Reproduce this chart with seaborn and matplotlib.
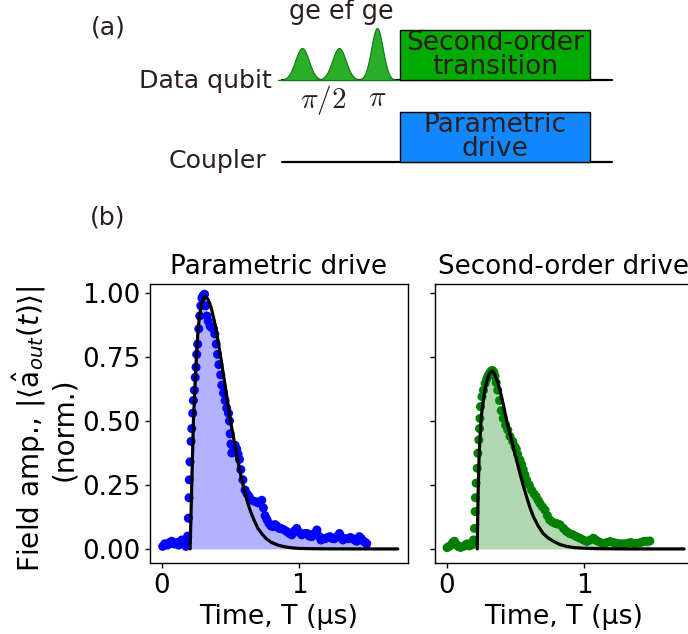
import numpy as np
import pandas as pd
import matplotlib
matplotlib.use("Agg")
import matplotlib.pyplot as plt
from matplotlib.patches import Rectangle
import seaborn as sns

# ---- measured emission envelopes (normalised field amplitude vs time in us) ----
param_time = [0.005, 0.02, 0.04, 0.055, 0.07, 0.085, 0.095, 0.11, 0.12, 0.135, 0.144, 0.155,
              0.165, 0.175, 0.187, 0.192, 0.197, 0.199, 0.204, 0.212, 0.217, 0.224, 0.229,
              0.236, 0.242, 0.248, 0.253, 0.260, 0.268, 0.275, 0.283, 0.291, 0.300, 0.310,
              0.320, 0.328, 0.337, 0.350, 0.362, 0.375, 0.385, 0.395, 0.405, 0.415, 0.428,
              0.436, 0.448, 0.460, 0.472, 0.485, 0.492, 0.497, 0.503, 0.509, 0.520, 0.533,
              0.545, 0.555, 0.565, 0.575, 0.590, 0.606, 0.620, 0.635, 0.655, 0.680, 0.700,
              0.715, 0.728, 0.740, 0.752, 0.765, 0.780, 0.795, 0.810, 0.825, 0.837, 0.855,
              0.870, 0.890, 0.910, 0.930, 0.947, 0.965, 0.983, 1.000, 1.020, 1.040, 1.060,
              1.075, 1.093, 1.110, 1.130, 1.145, 1.160, 1.175, 1.190, 1.210, 1.226, 1.245,
              1.260, 1.280, 1.295, 1.310, 1.320, 1.340, 1.360, 1.375, 1.390, 1.405, 1.420,
              1.440, 1.455, 1.470, 1.485, 1.494]
param_amp = [0.010, 0.020, 0.015, 0.025, 0.030, 0.020, 0.020, 0.025, 0.015, 0.030, 0.035, 0.020,
             0.030, 0.010, 0.050, 0.120, 0.200, 0.270, 0.340, 0.420, 0.470, 0.530, 0.580,
             0.620, 0.670, 0.710, 0.760, 0.800, 0.860, 0.910, 0.950, 0.980, 0.990, 0.995,
             0.950, 0.910, 0.890, 0.870, 0.865, 0.860, 0.840, 0.800, 0.760, 0.720, 0.680,
             0.640, 0.610, 0.580, 0.550, 0.530, 0.500, 0.450, 0.410, 0.375, 0.400, 0.405,
             0.390, 0.370, 0.350, 0.310, 0.270, 0.230, 0.215, 0.205, 0.190, 0.185, 0.180,
             0.185, 0.190, 0.160, 0.130, 0.115, 0.100, 0.090, 0.087, 0.095, 0.090, 0.080,
             0.080, 0.075, 0.068, 0.060, 0.055, 0.070, 0.080, 0.065, 0.055, 0.060, 0.060,
             0.050, 0.048, 0.060, 0.074, 0.050, 0.035, 0.040, 0.040, 0.045, 0.048, 0.040,
             0.040, 0.050, 0.060, 0.045, 0.035, 0.040, 0.040, 0.045, 0.040, 0.035, 0.030,
             0.048, 0.040, 0.030, 0.025, 0.020]

param_fit_time = [0.205, 0.212, 0.219, 0.225, 0.229, 0.241, 0.253, 0.262, 0.272, 0.284, 0.296,
                  0.308, 0.320, 0.335, 0.350, 0.362, 0.375, 0.388, 0.400, 0.420, 0.435, 0.448,
                  0.470, 0.496, 0.520, 0.540, 0.560, 0.580, 0.600, 0.625, 0.650, 0.675, 0.700,
                  0.730, 0.760, 0.800, 0.850, 0.900, 0.950, 1.000, 1.100, 1.250, 1.450, 1.720]
param_fit_amp = [0.000, 0.150, 0.300, 0.420, 0.500, 0.645, 0.770, 0.850, 0.905, 0.945, 0.970,
                 0.982, 0.985, 0.975, 0.957, 0.935, 0.905, 0.875, 0.840, 0.775, 0.725, 0.680,
                 0.605, 0.510, 0.440, 0.380, 0.325, 0.275, 0.230, 0.180, 0.140, 0.108, 0.080,
                 0.058, 0.040, 0.025, 0.014, 0.008, 0.004, 0.002, 0.0007, 0.0002, 0.0, 0.0]

second_time = [0.000, 0.015, 0.030, 0.042, 0.054, 0.065, 0.080, 0.090, 0.100, 0.115, 0.130,
               0.140, 0.150, 0.160, 0.170, 0.180, 0.193, 0.200, 0.205, 0.207, 0.212, 0.220,
               0.225, 0.232, 0.237, 0.240, 0.244, 0.255, 0.266, 0.278, 0.290, 0.300, 0.310,
               0.322, 0.333, 0.342, 0.350, 0.358, 0.370, 0.383, 0.395, 0.410, 0.427, 0.443,
               0.459, 0.480, 0.495, 0.505, 0.515, 0.532, 0.545, 0.556, 0.568, 0.580, 0.600,
               0.617, 0.635, 0.650, 0.665, 0.678, 0.695, 0.715, 0.732, 0.750, 0.770, 0.788,
               0.805, 0.825, 0.850, 0.873, 0.895, 0.920, 0.945, 0.970, 0.995, 1.020, 1.045,
               1.068, 1.085, 1.100, 1.120, 1.140, 1.165, 1.190, 1.215, 1.240, 1.265, 1.290,
               1.315, 1.340, 1.360, 1.380, 1.410, 1.434, 1.460, 1.480]
second_amp = [0.005, 0.010, 0.015, 0.025, 0.030, 0.020, 0.010, 0.008, 0.006, 0.010, 0.012,
              0.018, 0.020, 0.012, 0.015, 0.015, 0.035, 0.080, 0.146, 0.200, 0.257, 0.315,
              0.374, 0.426, 0.470, 0.510, 0.556, 0.595, 0.620, 0.647, 0.665, 0.677, 0.686,
              0.695, 0.697, 0.690, 0.675, 0.650, 0.620, 0.580, 0.540, 0.510, 0.484, 0.465,
              0.440, 0.420, 0.400, 0.390, 0.370, 0.348, 0.330, 0.310, 0.290, 0.270, 0.250,
              0.230, 0.215, 0.205, 0.190, 0.178, 0.165, 0.152, 0.130, 0.113, 0.105, 0.100,
              0.098, 0.094, 0.080, 0.068, 0.060, 0.055, 0.048, 0.042, 0.035, 0.029, 0.035,
              0.042, 0.035, 0.030, 0.025, 0.020, 0.025, 0.029, 0.025, 0.022, 0.020, 0.020,
              0.022, 0.025, 0.022, 0.022, 0.025, 0.029, 0.030, 0.031]

second_fit_time = [0.220, 0.227, 0.235, 0.240, 0.250, 0.263, 0.276, 0.290, 0.300, 0.315, 0.330,
                   0.345, 0.360, 0.373, 0.386, 0.410, 0.434, 0.458, 0.483, 0.508, 0.532, 0.556,
                   0.580, 0.605, 0.630, 0.665, 0.700, 0.740, 0.776, 0.820, 0.870, 0.930, 0.990,
                   1.100, 1.300, 1.730]
second_fit_amp = [0.000, 0.230, 0.380, 0.430, 0.517, 0.575, 0.620, 0.655, 0.673, 0.690, 0.695,
                  0.685, 0.665, 0.645, 0.620, 0.565, 0.504, 0.450, 0.400, 0.345, 0.295, 0.248,
                  0.204, 0.162, 0.126, 0.090, 0.061, 0.042, 0.030, 0.018, 0.010, 0.005, 0.003,
                  0.001, 0.0, 0.0]

panel_titles = ["Parametric drive", "Second-order drive"]
panel_colors = ["#0000ff", "#008000"]
fill_start = [0.205, 0.220]
y_ticks = [0.0, 0.25, 0.5, 0.75, 1.0]
y_tick_labels = ["0.00", "0.25", "0.50", "0.75", "1.00"]
x_ticks = [0, 1]
x_tick_labels = ["0", "1"]

sns.set_style("ticks")
plt.rcParams["font.family"] = ["DejaVu Sans"]
plt.rcParams["font.size"] = 19
plt.rcParams["text.color"] = "black"
plt.rcParams["axes.labelcolor"] = "black"
plt.rcParams["xtick.color"] = "black"
plt.rcParams["ytick.color"] = "black"
plt.rcParams["axes.edgecolor"] = "black"
plt.rcParams["axes.linewidth"] = 1.0
plt.rcParams["xtick.major.size"] = 3.5
plt.rcParams["ytick.major.size"] = 3.5
plt.rcParams["xtick.major.width"] = 1.0
plt.rcParams["ytick.major.width"] = 1.0
plt.rcParams["xtick.direction"] = "out"
plt.rcParams["ytick.direction"] = "out"

FS = 18.8
W, H = 688, 634
fig = plt.figure(figsize=(W / 100, H / 100), dpi=100)

# ---------------- (a) pulse-sequence schematic, drawn in pixel units ----------------
sch = fig.add_axes([0, 0, 1, 1])
sch.set_xlim(0, W)
sch.set_ylim(H, 0)
sch.axis("off")
txt_col = "#2d1e1e"

sch.plot([282, 612], [80, 80], color="black", lw=1.6, zorder=1)
sch.plot([282, 612], [162, 162], color="black", lw=1.6, zorder=1)
for cx, hgt, sig in [(302, 32, 6.8), (339, 32, 6.8), (377, 52, 5.8)]:
    xx = np.linspace(cx - 24, cx + 24, 140)
    yy = 80 - hgt * np.exp(-0.5 * ((xx - cx) / sig) ** 2)
    sch.fill_between(xx, 80, yy, color="#2aad2a", lw=0.8, edgecolor="#117711", zorder=2)
sch.add_patch(Rectangle((400, 30), 190, 50, facecolor="#00aa00", edgecolor="black", lw=1.0, zorder=3))
sch.add_patch(Rectangle((400, 112), 190, 50, facecolor="#1188ff", edgecolor="black", lw=1.0, zorder=3))
sch.text(495, 55, "Second-order\ntransition", ha="center", va="center", linespacing=0.85,
         color=txt_col, fontsize=19, zorder=4)
sch.text(495, 137, "Parametric\ndrive", ha="center", va="center", linespacing=0.85,
         color=txt_col, fontsize=19, zorder=4)
sch.text(272, 88, "Data qubit", ha="right", va="baseline", color=txt_col, fontsize=18.2)
sch.text(266, 168, "Coupler", ha="right", va="baseline", color=txt_col, fontsize=18.2)
sch.text(341, 19, "ge ef ge", ha="center", va="baseline", color=txt_col, fontsize=18.4)
sch.text(323, 100, r"$\pi/2$", ha="center", va="center", color=txt_col, fontsize=21,
         math_fontfamily="cm")
sch.text(377, 98, r"$\pi$", ha="center", va="center", color=txt_col, fontsize=21,
         math_fontfamily="cm")
sch.text(108, 28, "(a)", ha="center", va="center", color=txt_col, fontsize=18.2)
sch.text(108, 218, "(b)", ha="center", va="center", color=txt_col, fontsize=18.2)

# ---------------- (b) emission envelopes ----------------
ax_w, ax_h = 258 / W, 279 / H
ax_b = 1 - 563 / H
axL = fig.add_axes([150 / W, ax_b, ax_w, ax_h])
axR = fig.add_axes([435 / W, ax_b, ax_w, ax_h], sharex=axL, sharey=axL)

series = [
    (param_time, param_amp, param_fit_time, param_fit_amp),
    (second_time, second_amp, second_fit_time, second_fit_amp),
]
for ax, (t, a, ft, fa), title, col, t0 in zip([axL, axR], series, panel_titles,
                                              panel_colors, fill_start):
    df = pd.DataFrame({"t": t, "amp": a})
    fit = pd.DataFrame({"t": ft, "amp": fa})
    shaded = df[df["t"] >= t0]
    ax.fill_between(shaded["t"], shaded["amp"], color=col, alpha=0.3, lw=0, zorder=1)
    sns.scatterplot(data=df, x="t", y="amp", color=col, s=42, edgecolor="none",
                    ax=ax, zorder=2, legend=False)
    sns.lineplot(data=fit, x="t", y="amp", color="black", lw=2.3, ax=ax, zorder=3,
                 estimator=None, sort=False)
    ax.set_title(title, fontsize=FS, pad=7)
    ax.set_xlabel("Time, T (\u03bcs)", fontsize=19.3)
    ax.set_ylabel("")
    for sp in ax.spines.values():
        sp.set_visible(True)
        sp.set_color("black")

axL.set_xlim(-0.088, 1.795)
axL.set_ylim(-0.055, 1.035)
axL.set_xticks(x_ticks, x_tick_labels)
axL.set_yticks(y_ticks, y_tick_labels)
axR.tick_params(labelleft=False)
axL.tick_params(labelsize=FS)
axR.tick_params(labelsize=FS)
axL.set_ylabel("Field amp., $|\\langle\\hat{\\mathrm{a}}_{out}(t)\\rangle|$\n(norm.)",
               fontsize=20.2, va="center", linespacing=1.1)
axL.yaxis.set_label_coords(-0.41, 0.48)

fig.savefig("out.png", dpi=100)
